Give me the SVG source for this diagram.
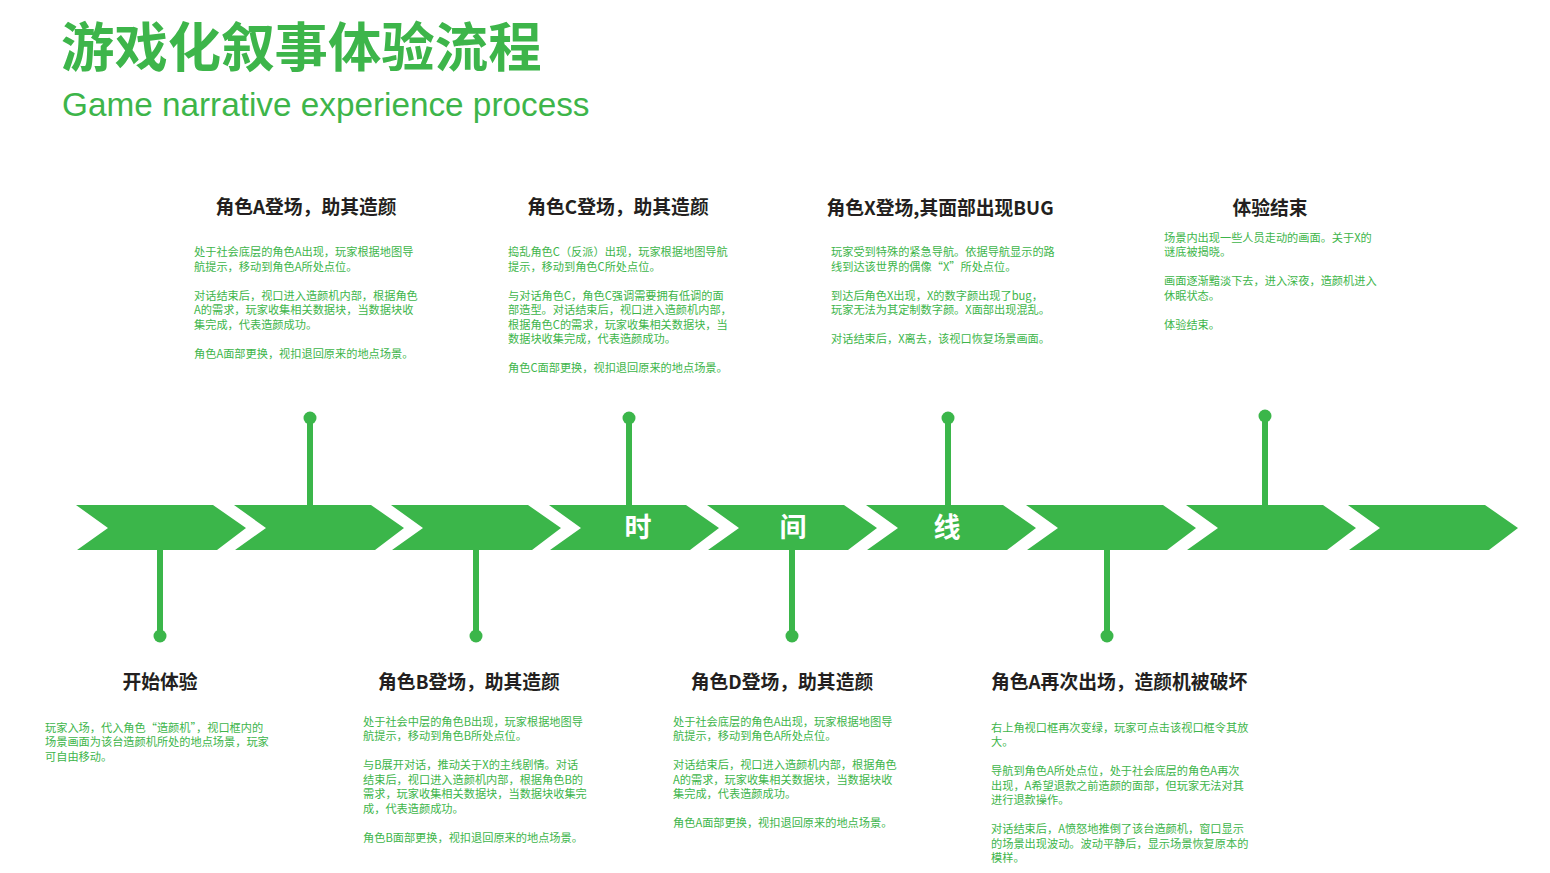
<svg xmlns="http://www.w3.org/2000/svg" xmlns:xlink="http://www.w3.org/1999/xlink" width="1550" height="873" viewBox="0 0 1550 873">
<style>
.title{font-family:"Noto Sans CJK SC","Noto Sans",sans-serif;font-weight:700;font-size:53.4px;fill:#3DB54A}
.sub{font-family:"Liberation Sans",Arial,sans-serif;font-size:33.3px;fill:#3DB54A}
.head{font-family:"Noto Sans CJK SC","Noto Sans",sans-serif;font-weight:700;font-size:18.8px;fill:#231F20}
.body{font-family:"Noto Sans CJK SC","Noto Sans",sans-serif;font-size:11.2px;fill:#3DB54A}
.tl{font-family:"Noto Sans CJK SC","Noto Sans",sans-serif;font-weight:700;font-size:27px;fill:#FFFFFF}
.chev{fill:#3BB64A}
.stem{stroke:#3BB64A;stroke-width:6;fill:none}
.dot{fill:#3BB64A}
</style>
<defs>
<path id="chev" class="chev" d="M0,0 L137,0 L170,23 L141,45 L1,45 L32,23 Z"/>
</defs>
<rect width="1550" height="873" fill="#FFFFFF"/>
<g id="header">
<text class="title" x="61" y="67">游戏化叙事体验流程</text>
<text class="sub" x="62" y="116">Game narrative experience process</text>
</g>
<g id="timeline">
<use xlink:href="#chev" href="#chev" x="76" y="505"/>
<use xlink:href="#chev" href="#chev" x="234" y="505"/>
<use xlink:href="#chev" href="#chev" x="391" y="505"/>
<use xlink:href="#chev" href="#chev" x="549" y="505"/>
<use xlink:href="#chev" href="#chev" x="707" y="505"/>
<use xlink:href="#chev" href="#chev" x="866" y="505"/>
<use xlink:href="#chev" href="#chev" x="1026" y="505"/>
<use xlink:href="#chev" href="#chev" x="1186" y="505"/>
<use xlink:href="#chev" href="#chev" x="1348" y="505"/>
<text class="tl" x="638" y="537" text-anchor="middle">时</text>
<text class="tl" x="793" y="537" text-anchor="middle">间</text>
<text class="tl" x="947" y="537" text-anchor="middle">线</text>
</g>
<g id="connectors">
<line class="stem" x1="310" y1="418" x2="310" y2="506"/><circle class="dot" cx="310" cy="418" r="6.5"/>
<line class="stem" x1="629" y1="418" x2="629" y2="506"/><circle class="dot" cx="629" cy="418" r="6.5"/>
<line class="stem" x1="948" y1="418" x2="948" y2="506"/><circle class="dot" cx="948" cy="418" r="6.5"/>
<line class="stem" x1="1265" y1="416" x2="1265" y2="506"/><circle class="dot" cx="1265" cy="416" r="6.5"/>
<line class="stem" x1="160" y1="549" x2="160" y2="636"/><circle class="dot" cx="160" cy="636" r="6.5"/>
<line class="stem" x1="476" y1="549" x2="476" y2="636"/><circle class="dot" cx="476" cy="636" r="6.5"/>
<line class="stem" x1="792" y1="549" x2="792" y2="636"/><circle class="dot" cx="792" cy="636" r="6.5"/>
<line class="stem" x1="1107" y1="549" x2="1107" y2="636"/><circle class="dot" cx="1107" cy="636" r="6.5"/>
</g>
<g id="node-a">
<text class="head" x="306" y="214" text-anchor="middle">角色A登场，助其造颜</text>
<text class="body">
<tspan x="194" y="256">处于社会底层的角色A出现，玩家根据地图导</tspan>
<tspan x="194" y="270.5">航提示，移动到角色A所处点位。</tspan>
<tspan x="194" y="299.5">对话结束后，视口进入造颜机内部，根据角色</tspan>
<tspan x="194" y="314">A的需求，玩家收集相关数据块，当数据块收</tspan>
<tspan x="194" y="328.5">集完成，代表造颜成功。</tspan>
<tspan x="194" y="357.5">角色A面部更换，视扣退回原来的地点场景。</tspan>
</text>
</g>
<g id="node-c">
<text class="head" x="618" y="214" text-anchor="middle">角色C登场，助其造颜</text>
<text class="body">
<tspan x="508" y="256">捣乱角色C（反派）出现，玩家根据地图导航</tspan>
<tspan x="508" y="270.5">提示，移动到角色C所处点位。</tspan>
<tspan x="508" y="299.5">与对话角色C，角色C强调需要拥有低调的面</tspan>
<tspan x="508" y="314">部造型。对话结束后，视口进入造颜机内部，</tspan>
<tspan x="508" y="328.5">根据角色C的需求，玩家收集相关数据块，当</tspan>
<tspan x="508" y="343">数据块收集完成，代表造颜成功。</tspan>
<tspan x="508" y="372">角色C面部更换，视扣退回原来的地点场景。</tspan>
</text>
</g>
<g id="node-x">
<text class="head" x="940" y="215" text-anchor="middle">角色X登场,其面部出现BUG</text>
<text class="body">
<tspan x="831" y="256">玩家受到特殊的紧急导航。依据导航显示的路</tspan>
<tspan x="831" y="270.5">线到达该世界的偶像“X”所处点位。</tspan>
<tspan x="831" y="299.5">到达后角色X出现，X的数字颜出现了bug，</tspan>
<tspan x="831" y="314">玩家无法为其定制数字颜。X面部出现混乱。</tspan>
<tspan x="831" y="343">对话结束后，X离去，该视口恢复场景画面。</tspan>
</text>
</g>
<g id="node-end">
<text class="head" x="1270" y="215" text-anchor="middle">体验结束</text>
<text class="body">
<tspan x="1164" y="241.5">场景内出现一些人员走动的画面。关于X的</tspan>
<tspan x="1164" y="256">谜底被揭晓。</tspan>
<tspan x="1164" y="285">画面逐渐黯淡下去，进入深夜，造颜机进入</tspan>
<tspan x="1164" y="299.5">休眠状态。</tspan>
<tspan x="1164" y="328.5">体验结束。</tspan>
</text>
</g>
<g id="node-start">
<text class="head" x="160" y="689" text-anchor="middle">开始体验</text>
<text class="body">
<tspan x="45" y="731.5">玩家入场，代入角色“造颜机”，视口框内的</tspan>
<tspan x="45" y="746">场景画面为该台造颜机所处的地点场景，玩家</tspan>
<tspan x="45" y="760.5">可自由移动。</tspan>
</text>
</g>
<g id="node-b">
<text class="head" x="469" y="689" text-anchor="middle">角色B登场，助其造颜</text>
<text class="body">
<tspan x="363" y="725.5">处于社会中层的角色B出现，玩家根据地图导</tspan>
<tspan x="363" y="740">航提示，移动到角色B所处点位。</tspan>
<tspan x="363" y="769">与B展开对话，推动关于X的主线剧情。对话</tspan>
<tspan x="363" y="783.5">结束后，视口进入造颜机内部，根据角色B的</tspan>
<tspan x="363" y="798">需求，玩家收集相关数据块，当数据块收集完</tspan>
<tspan x="363" y="812.5">成，代表造颜成功。</tspan>
<tspan x="363" y="841.5">角色B面部更换，视扣退回原来的地点场景。</tspan>
</text>
</g>
<g id="node-d">
<text class="head" x="782" y="689" text-anchor="middle">角色D登场，助其造颜</text>
<text class="body">
<tspan x="673" y="725.5">处于社会底层的角色A出现，玩家根据地图导</tspan>
<tspan x="673" y="740">航提示，移动到角色A所处点位。</tspan>
<tspan x="673" y="769">对话结束后，视口进入造颜机内部，根据角色</tspan>
<tspan x="673" y="783.5">A的需求，玩家收集相关数据块，当数据块收</tspan>
<tspan x="673" y="798">集完成，代表造颜成功。</tspan>
<tspan x="673" y="827">角色A面部更换，视扣退回原来的地点场景。</tspan>
</text>
</g>
<g id="node-a2">
<text class="head" x="991" y="689">角色A再次出场，造颜机被破坏</text>
<text class="body">
<tspan x="991" y="731.5">右上角视口框再次变绿，玩家可点击该视口框令其放</tspan>
<tspan x="991" y="746">大。</tspan>
<tspan x="991" y="775">导航到角色A所处点位，处于社会底层的角色A再次</tspan>
<tspan x="991" y="789.5">出现，A希望退款之前造颜的面部，但玩家无法对其</tspan>
<tspan x="991" y="804">进行退款操作。</tspan>
<tspan x="991" y="833">对话结束后，A愤怒地推倒了该台造颜机，窗口显示</tspan>
<tspan x="991" y="847.5">的场景出现波动。波动平静后，显示场景恢复原本的</tspan>
<tspan x="991" y="862">模样。</tspan>
</text>
</g>
</svg>
